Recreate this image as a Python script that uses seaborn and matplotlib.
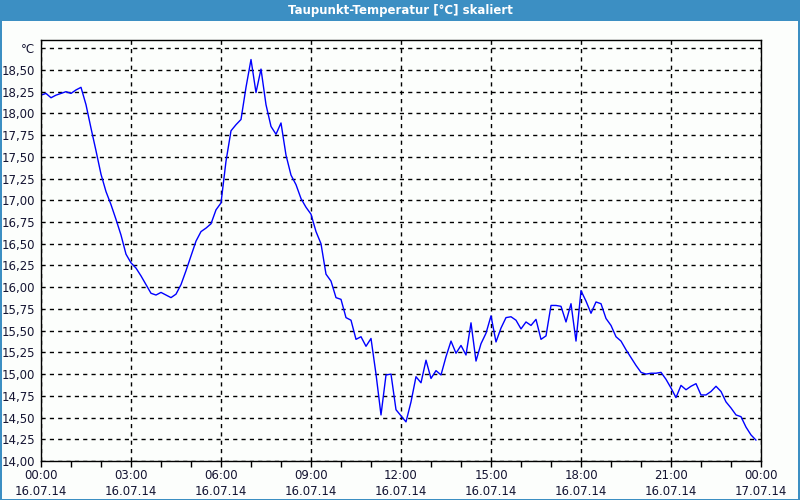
import numpy as np
import pandas as pd
import matplotlib
matplotlib.use("Agg")
import matplotlib.pyplot as plt
import seaborn as sns
from matplotlib.patches import Rectangle

# --- data (10-minute samples, 16.07.14 00:00 onwards) ---
values = [
    18.21, 18.23, 18.18, 18.21, 18.23, 18.25, 18.23, 18.27, 18.30, 18.10,
    17.83, 17.57, 17.30, 17.10, 16.95, 16.78, 16.60, 16.38, 16.28, 16.22,
    16.13, 16.03, 15.93, 15.91, 15.94, 15.91, 15.88, 15.92, 16.03, 16.19,
    16.36, 16.53, 16.64, 16.68, 16.73, 16.89, 16.97, 17.45, 17.80, 17.87,
    17.93, 18.30, 18.62, 18.24, 18.51, 18.10, 17.85, 17.76, 17.89, 17.52,
    17.29, 17.18, 17.02, 16.92, 16.84, 16.64, 16.50, 16.15, 16.07, 15.88,
    15.86, 15.65, 15.62, 15.40, 15.43, 15.32, 15.41, 15.00, 14.53, 14.99,
    15.00, 14.59, 14.52, 14.45, 14.68, 14.97, 14.90, 15.16, 14.95, 15.04,
    14.99, 15.20, 15.38, 15.24, 15.33, 15.22, 15.59, 15.15, 15.35, 15.47,
    15.67, 15.37, 15.53, 15.65, 15.66, 15.62, 15.52, 15.60, 15.56, 15.63,
    15.40, 15.44, 15.79, 15.79, 15.78, 15.60, 15.81, 15.38, 15.96, 15.84,
    15.70, 15.83, 15.81, 15.64, 15.56, 15.43, 15.38, 15.28, 15.19, 15.10,
    15.02, 15.00, 15.01, 15.01, 15.02, 14.94, 14.84, 14.73, 14.87, 14.82,
    14.86, 14.89, 14.76, 14.76, 14.80, 14.86, 14.80, 14.68, 14.61, 14.53,
    14.51, 14.39, 14.30, 14.24,
]
sample_minutes = 10
hours = [i * sample_minutes / 60 for i in range(len(values))]

x_tick_hours = [0, 3, 6, 9, 12, 15, 18, 21, 24]
x_tick_labels = ["00:00\n16.07.14", "03:00\n16.07.14", "06:00\n16.07.14",
                 "09:00\n16.07.14", "12:00\n16.07.14", "15:00\n16.07.14",
                 "18:00\n16.07.14", "21:00\n16.07.14", "00:00\n17.07.14"]
y_ticks = [14.00, 14.25, 14.50, 14.75, 15.00, 15.25, 15.50, 15.75, 16.00,
           16.25, 16.50, 16.75, 17.00, 17.25, 17.50, 17.75, 18.00, 18.25,
           18.50, 18.75]
y_tick_labels = ["14,00", "14,25", "14,50", "14,75", "15,00", "15,25", "15,50",
                 "15,75", "16,00", "16,25", "16,50", "16,75", "17,00", "17,25",
                 "17,50", "17,75", "18,00", "18,25", "18,50", "°C"]
title = "Taupunkt-Temperatur [°C] skaliert"

df = pd.DataFrame({"hour": hours, "value": values})

sns.set_theme(style="white")
plt.rcParams["font.family"] = ["DejaVu Sans"]

W, H = 800, 500
bg = "#fcfefc"
fig = plt.figure(figsize=(W / 100, H / 100), dpi=100, facecolor=bg)

left, right, top, bottom = 41, 761, 40, 461
ax = fig.add_axes([left / W, 1 - bottom / H, (right - left) / W, (bottom - top) / H])
ax.set_facecolor(bg)

sns.lineplot(data=df, x="hour", y="value", ax=ax, color="#0000ff", linewidth=1.0)

ax.set_xlim(0, 24)
ax.set_ylim(14.0, 14.0 + (bottom - top) / 86.9)
ax.set_xticks(x_tick_hours)
ax.set_xticklabels(x_tick_labels, fontsize=8.5, color="#141432", linespacing=1.25)
ax.set_xticks(range(0, 25), minor=True)
ax.set_yticks(y_ticks)
ax.set_yticklabels(y_tick_labels, fontsize=8.5, color="#141432")
ax.set_xlabel("")
ax.set_ylabel("")

ax.tick_params(axis="x", which="both", direction="out", length=4, width=1,
               color="black", pad=2, bottom=True)
ax.tick_params(axis="y", which="both", length=0, pad=4, left=True)

ax.grid(True, which="major", color="black", linestyle=(0, (3, 3)), linewidth=1.0)

for s in ax.spines.values():
    s.set_visible(True)
    s.set_color("black")
    s.set_linewidth(1.0)

# title bar and window border
fig.patches.append(Rectangle((0, 1 - 21 / H), 1, 21 / H, transform=fig.transFigure,
                             facecolor="#3c8fc3", edgecolor="none", zorder=0))
fig.patches.append(Rectangle((0, 0), 2 / W, 1, transform=fig.transFigure,
                             facecolor="#3c8fc3", edgecolor="none", zorder=0))
fig.patches.append(Rectangle((1 - 2 / W, 0), 2 / W, 1, transform=fig.transFigure,
                             facecolor="#3c8fc3", edgecolor="none", zorder=0))
fig.patches.append(Rectangle((0, 0), 1, 1 / H, transform=fig.transFigure,
                             facecolor="#3c8fc3", edgecolor="none", zorder=0))
fig.text(0.5, 1 - 10.5 / H, title, ha="center", va="center", color="white",
         fontsize=8.5, fontweight="bold")

fig.savefig("out.png", dpi=100, facecolor=bg)
